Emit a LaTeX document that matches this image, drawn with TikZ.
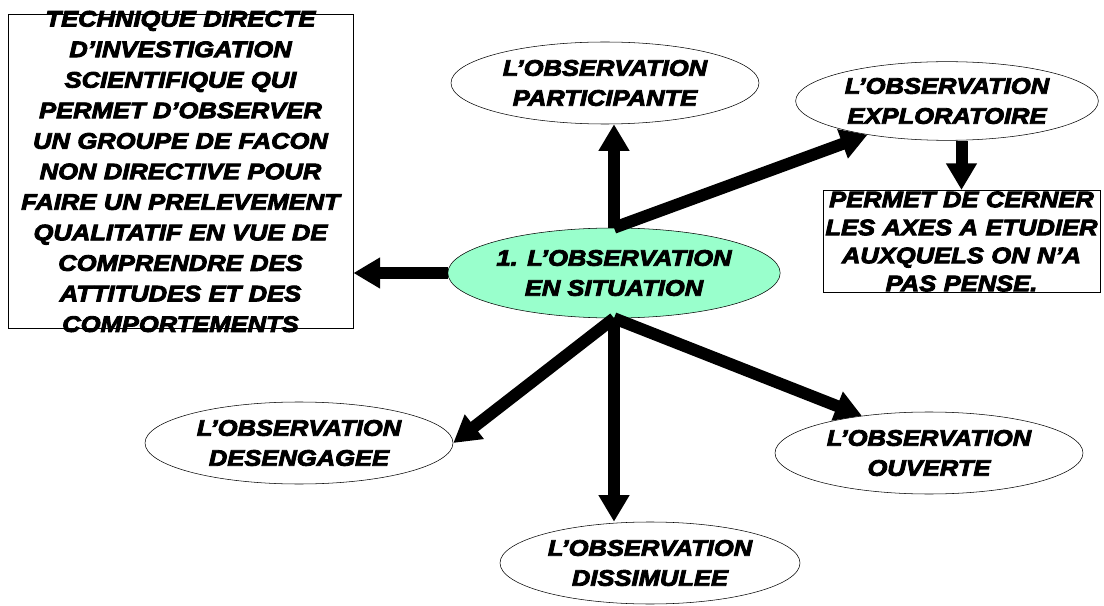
\documentclass[tikz,border=0pt]{standalone}
\usepackage{fontspec}
\usetikzlibrary{arrows.meta,shapes.geometric,calc}
\newfontfamily\gras{Liberation Sans}[FakeStretch=1.14,BoldItalicFeatures={FakeBold=4}]
\newcommand\grastexte{\gras\bfseries\itshape\fontsize{16.8}{22.5}\selectfont}
\definecolor{VertClair}{RGB}{153,255,204}
\tikzset{
  bulle/.style={ellipse,draw=black,thin,fill=white,inner sep=0pt,align=center,
    minimum width=231pt,minimum height=61.5pt,font=\grastexte},
  cadre/.style={draw=black,thin,fill=white,align=center,inner xsep=0pt},
  fleche/.style={-{Triangle[width=22pt,length=20pt]},line width=9pt,black}
}

\begin{document}
\begin{tikzpicture}[x=0.75pt,y=-0.75pt]
  \useasboundingbox (0,0) rectangle (1104,606);
  % noeud central et branches
  \node[bulle,fill=VertClair,minimum height=67.5pt] (centre) at (614,273) {1. L’OBSERVATION\\EN SITUATION};
  \node[bulle] (partic) at (605,83) {L’OBSERVATION\\PARTICIPANTE};
  \node[bulle,minimum width=227pt,minimum height=59pt] (explo) at (947,101) {L’OBSERVATION\\EXPLORATOIRE};
  \node[bulle] (deseng) at (299,443) {L’OBSERVATION\\DESENGAGEE};
  \node[bulle] (ouvert) at (929,453) {L’OBSERVATION\\OUVERTE};
  \node[bulle,minimum width=225pt] (dissim) at (650,563) {L’OBSERVATION\\DISSIMULEE};
  % cadres de texte
  \node[cadre,text width=259pt,inner ysep=-2.5pt,
    font=\grastexte\fontsize{16.8}{22.9}\selectfont] (defbox) at (180.5,171.5)
    {TECHNIQUE DIRECTE\\D’INVESTIGATION\\SCIENTIFIQUE QUI\\PERMET D’OBSERVER\\
     UN GROUPE DE FACON\\NON DIRECTIVE POUR\\FAIRE UN PRELEVEMENT\\
     QUALITATIF EN VUE DE\\COMPRENDRE DES\\ATTITUDES ET DES\\COMPORTEMENTS};
  \node[cadre,text width=208pt,inner ysep=1pt,
    font=\grastexte\fontsize{16.8}{21}\selectfont] (cerner) at (961.5,241.5)
    {PERMET DE CERNER\\LES AXES A ETUDIER\\AUXQUELS ON N’A\\PAS PENSE.};
  % fleches
  \draw[fleche] (centre.north) -- (centre.north |- partic.south);
  \draw[fleche] (centre.north) -- (explo.203);
  \draw[fleche] (centre.west) -- (centre.west -| defbox.east);
  \draw[fleche] (centre.south) -- (deseng.east);
  \draw[fleche] (centre.south) -- (ouvert.151);
  \draw[fleche] (centre.south) -- (centre.south |- dissim.north);
  \draw[fleche] (cerner.north |- explo.south) -- (cerner.north);
\end{tikzpicture}
\end{document}
